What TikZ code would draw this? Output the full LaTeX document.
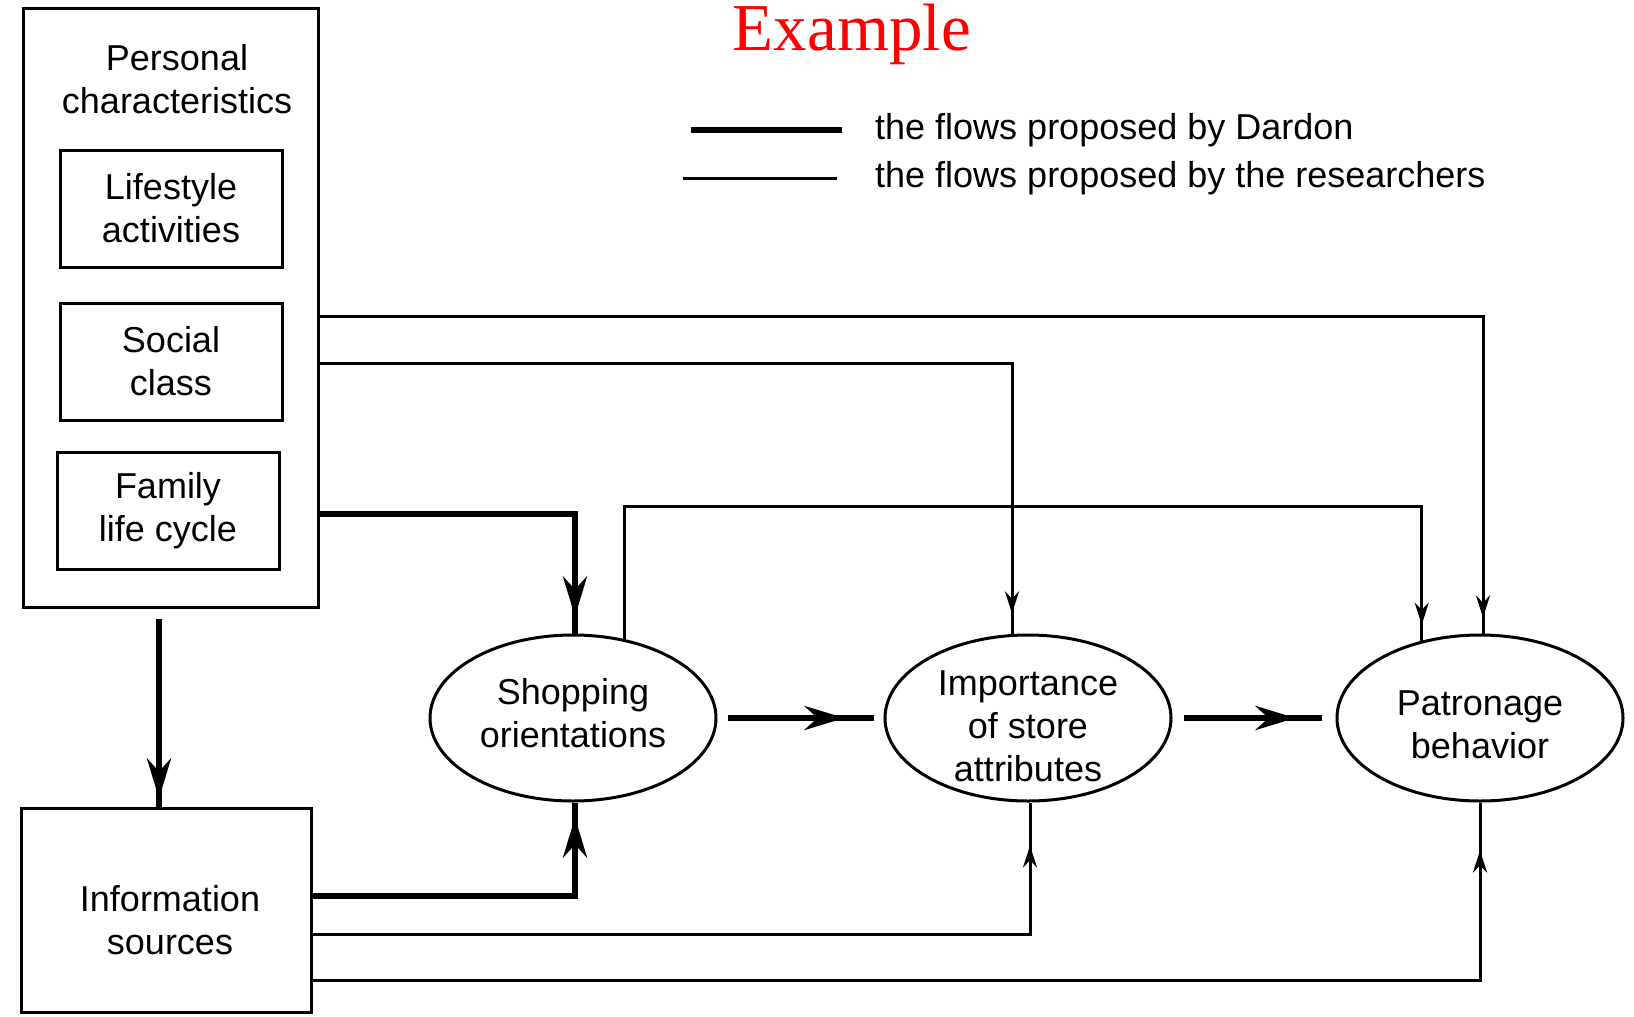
\documentclass[tikz,border=0pt]{standalone}
\usepackage{fontspec}
\setmainfont{Liberation Sans}
\newfontfamily\titlefont{Liberation Serif}
\usetikzlibrary{arrows.meta}
\usetikzlibrary{positioning}
\usetikzlibrary{shapes.geometric}
\usetikzlibrary{decorations.markings}

\begin{document}
\begin{tikzpicture}[x=1pt,y=-1pt]
        \tikzset{
          font=\fontsize{36}{43}\selectfont,
          every node/.style={align=center},
          outer/.style={draw, line width=3pt, minimum width=295pt, minimum height=599pt},
          inbox/.style={draw, line width=3pt, minimum width=222pt, minimum height=117pt, inner sep=0pt},
          oval/.style={draw, ellipse, line width=3pt, minimum width=286pt, minimum height=166pt, inner sep=0pt},
          dflow/.style={
            line width=6pt,
            decoration={markings, mark=at position #1 with {\arrow{Stealth[length=40pt,width=24pt]}}},
            postaction={decorate},
          },
          rflow/.style={
            line width=3pt,
            decoration={markings, mark=at position #1 with {\arrow{Stealth[length=22pt,width=14pt]}}},
            postaction={decorate},
          },
        }
        \useasboundingbox (0,0) rectangle (1634,1017);

        \node[font=\titlefont\fontsize{67}{80}\selectfont, text=red, anchor=base] (ttl) at (852,50) {Example};

        % legend
        \node[anchor=west, inner sep=0pt] (ka) at (875,130) {the flows proposed by Dardon};
        \node[anchor=west, inner sep=0pt] (kb) at (875,178) {the flows proposed by the researchers};
        \draw[line width=6pt] ([xshift=-33pt]ka.west) -- ++(-151,0);
        \draw[line width=3pt] ([xshift=-38pt]kb.west) -- ++(-154,0);

        % personal characteristics
        \node[outer] (pc) at (170.5,307.5) {};
        \node (pct) at (177,79) {Personal\\characteristics};
        \node[inbox] (ls) at (171,208.5) {Lifestyle\\activities};
        \node[inbox, below=33pt of ls] (sc) {Social\\class};
        \node[inbox, below=29pt of sc, xshift=-3pt] (fl) {Family\\life cycle};
        \node[draw, line width=3pt, minimum width=290pt, minimum height=204pt,
              below=198pt of pc, xshift=-4.5pt,
              label={[xshift=4pt, yshift=-10pt]center:Information\\sources}] (is) {};

        \node[oval, label={[yshift=5pt]center:Shopping\\orientations}] (so) at (573,718) {};
        \node[oval, right=166pt of so, label={[yshift=-8pt]center:Importance\\of store\\attributes}] (ia) {};
        \node[oval, right=163pt of ia, label={[yshift=-7pt]center:Patronage\\behavior}] (pb) {};

        % flows proposed by Dardon
        \draw[dflow=-8pt] ([shift={(-11.5pt,-10pt)}]pc.south) -- ([xshift=-7pt]is.north);
        \draw[dflow=-17pt] ([yshift=-206pt]pc.east) -| ([xshift=2pt]so.north);
        \draw[dflow=-15pt] ([yshift=14pt]is.east) -| ([xshift=2pt]so.south);
        \draw[dflow=-29pt] ([xshift=10pt]so.east) -- ([xshift=-10pt]ia.west);
        \draw[dflow=-26pt] ([xshift=11pt]ia.east) -- ([xshift=-14pt]pb.west);

        % flows proposed by the researchers
        \draw[rflow=-16pt] ([yshift=-8.5pt]pc.east) -| ([xshift=3pt]pb.north);
        \draw[rflow=-20pt] ([yshift=-55.5pt]pc.east) -| ([xshift=-16pt]ia.north);
        \draw[rflow=-16pt] (so.57) -- ++(0,-133) -| (pb.127);
        \draw[rflow=-43pt] ([yshift=-24pt]is.east) -| ([xshift=2pt]ia.south);
        \draw[rflow=-48pt] ([yshift=-70pt]is.east) -| (pb.south);
\end{tikzpicture}
\end{document}
